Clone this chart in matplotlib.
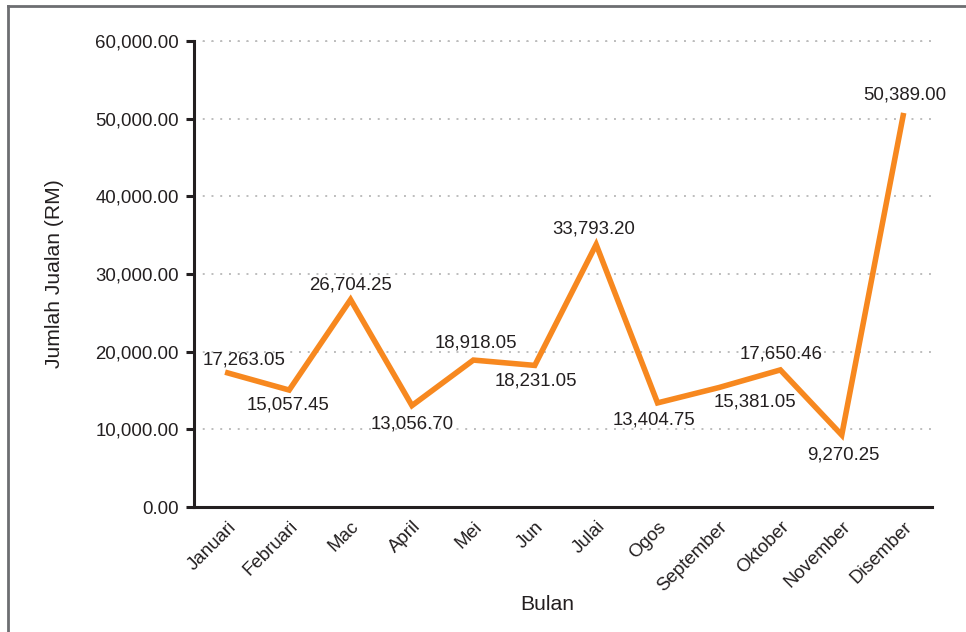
import matplotlib
matplotlib.use("Agg")
import matplotlib.pyplot as plt
from matplotlib.ticker import FuncFormatter
from matplotlib.lines import Line2D

months = ["Januari", "Februari", "Mac", "April", "Mei", "Jun", "Julai",
          "Ogos", "September", "Oktober", "November", "Disember"]
sales = [17263.05, 15057.45, 26704.25, 13056.70, 18918.05, 18231.05,
         33793.20, 13404.75, 15381.05, 17650.46, 9270.25, 50389.00]
yticks = [0, 10000, 20000, 30000, 40000, 50000, 60000]
# label offsets in pixels (dx, dy) relative to each point
label_offsets = [(16, 13), (-1, -15), (0, 15), (0, -18), (3, 17), (1, -16),
                 (-2, 16), (-4, -17), (36, -14), (1, 16), (2, -20), (2, 21)]

plt.rcParams['font.family'] = ['Liberation Sans', 'DejaVu Sans']
TXT = '#231F20'
ORANGE = '#F7881F'

fig = plt.figure(figsize=(9.66, 6.32), dpi=100)
ax = fig.add_axes([194/966, 1-507/632, (932-194)/966, (507-41)/632])

x = list(range(len(months)))
ax.plot(x, sales, color=ORANGE, lw=4.0, solid_joinstyle='miter', zorder=3)

for xi, v, (dx, dy) in zip(x, sales, label_offsets):
    ax.annotate(f"{v:,.2f}", (xi, v), xytext=(dx, dy), textcoords='offset pixels',
                ha='center', va='center', fontsize=13.4, color=TXT, zorder=4)

ax.set_xlim(-0.55, 11.47)
ax.set_ylim(0, 60000)
ax.set_yticks(yticks)
ax.yaxis.set_major_formatter(FuncFormatter(lambda v, p: f"{v:,.2f}"))
ax.set_xticks(x)
ax.set_xticklabels(months, rotation=45, ha='right', rotation_mode='anchor')

for s in ['top', 'right']:
    ax.spines[s].set_visible(False)
for s in ['left', 'bottom']:
    ax.spines[s].set_color(TXT)
    ax.spines[s].set_linewidth(2.2)

ax.tick_params(axis='y', length=6, width=2.2, color=TXT, labelsize=13.4,
               labelcolor=TXT, pad=5)
ax.tick_params(axis='x', length=0, labelsize=13.4, labelcolor=TXT, pad=8)

ax.yaxis.grid(True, linestyle=(0, (1, 3.5)), color='#BDBDBD', lw=1.4)
ax.set_axisbelow(True)
# gridline at 60000 (top)
ax.axhline(60000, linestyle=(0, (1, 3.5)), color='#BDBDBD', lw=1.4, clip_on=False, zorder=0)

ax.set_xlabel("Bulan", fontsize=15.2, color=TXT, va='center')
ax.xaxis.set_label_coords((547-194)/738, -(605-507)/466)
ax.set_ylabel("Jumlah Jualan (RM)", fontsize=15.2, color=TXT, va='center')
ax.yaxis.set_label_coords((55-194)/738, 0.5)

# figure border (left and top edges visible)
fig.add_artist(Line2D([7.5/966, 7.5/966], [0, 1-6/632], color='#6D6E71', lw=2,
                      transform=fig.transFigure))
fig.add_artist(Line2D([7.5/966, 1], [1-6/632, 1-6/632], color='#6D6E71', lw=2,
                      transform=fig.transFigure))

fig.savefig("out.png", dpi=100)
